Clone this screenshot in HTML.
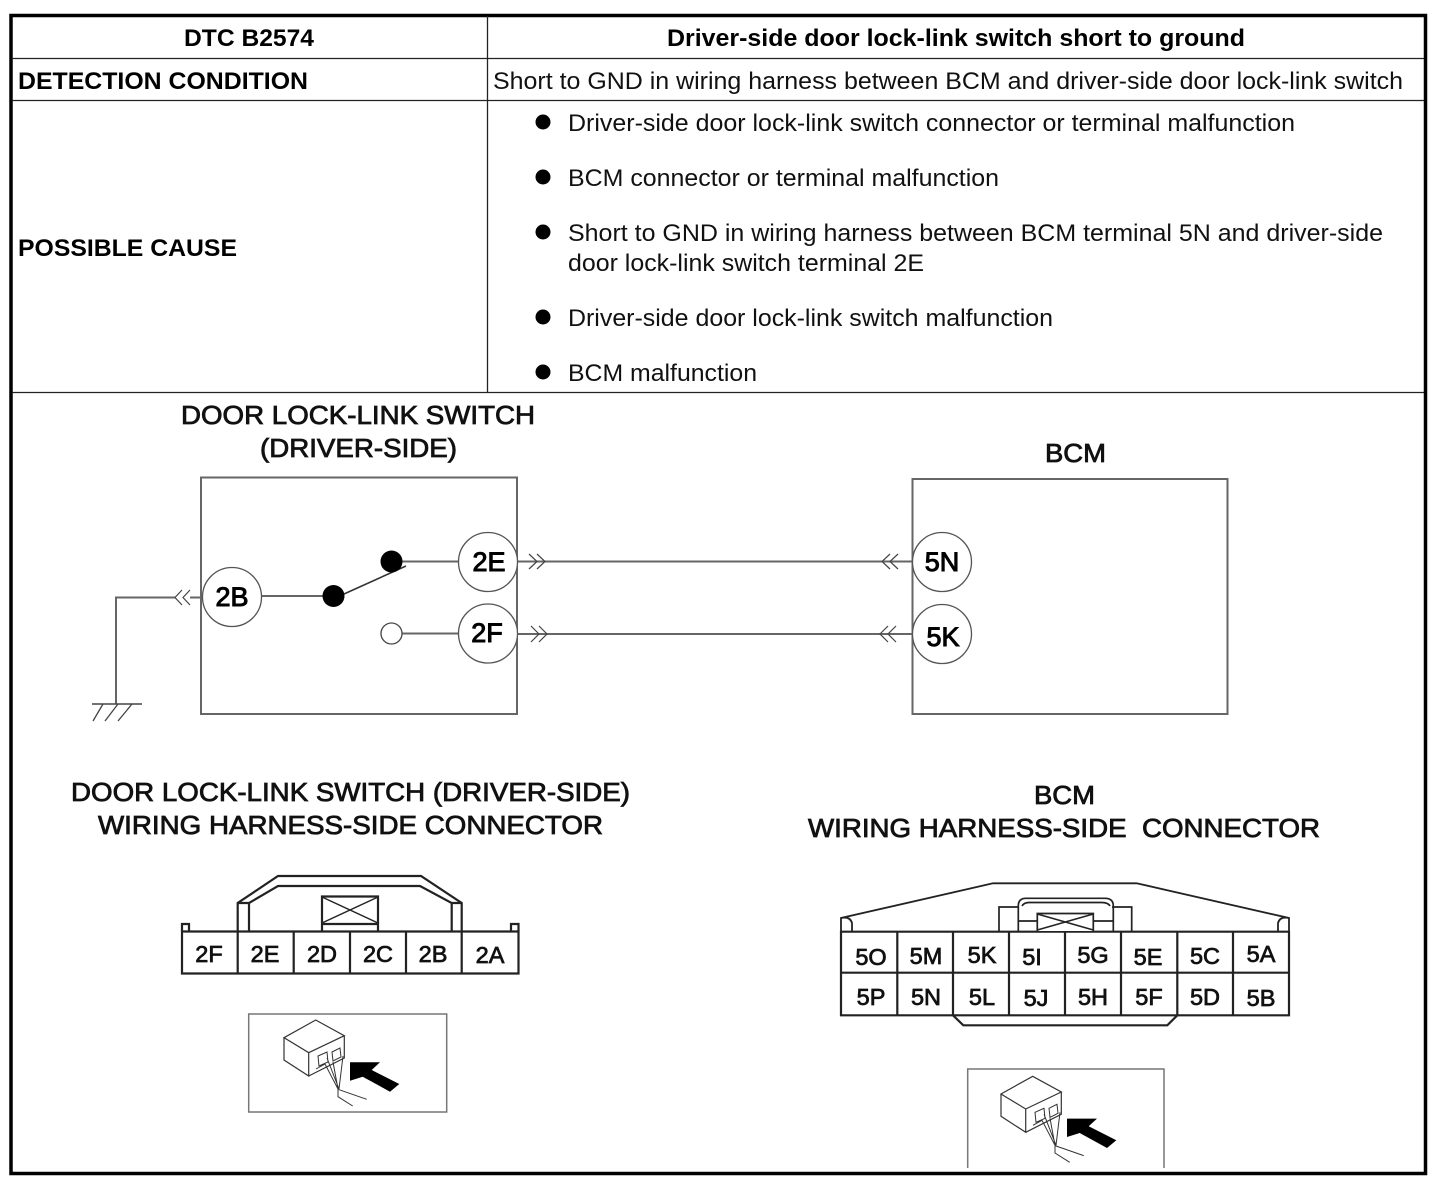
<!DOCTYPE html>
<html><head><meta charset="utf-8"><title>DTC B2574</title>
<style>
html,body{margin:0;padding:0;background:#fff;width:1438px;height:1190px;overflow:hidden}
svg{display:block;font-family:"Liberation Sans",sans-serif}
.t{font-size:24px;fill:#111}
.b{font-size:24px;font-weight:bold;fill:#000}
.h{font-size:26px;fill:#111;stroke:#111;stroke-width:.8}
.c{font-size:27px;fill:#000;stroke:#000;stroke-width:1;text-anchor:middle}
.p{font-size:23.500px;fill:#111;stroke:#111;stroke-width:.75;text-anchor:middle}
.g{fill:none;stroke:#666;stroke-width:2}
.k{fill:none;stroke:#222;stroke-width:2.200}
.n{fill:none;stroke:#444;stroke-width:1.200}
</style></head><body>
<svg width="1438" height="1190" viewBox="0 0 1438 1190" xmlns="http://www.w3.org/2000/svg">
<!-- table -->
<rect x="11" y="15.500" width="1414.500" height="1158" fill="#fff" stroke="#000" stroke-width="3.500"/>
<path d="M12 58.500H1424M12 100.500H1424M12 392.500H1424M487.500 16V392" fill="none" stroke="#222" stroke-width="1.300"/>
<text class="b" x="184" y="46" textLength="130" lengthAdjust="spacingAndGlyphs">DTC B2574</text>
<text class="b" x="667" y="46" textLength="578" lengthAdjust="spacingAndGlyphs">Driver-side door lock-link switch short to ground</text>
<text class="b" x="18" y="89" textLength="290" lengthAdjust="spacingAndGlyphs">DETECTION CONDITION</text>
<text class="t" x="493" y="89" textLength="910" lengthAdjust="spacingAndGlyphs">Short to GND in wiring harness between BCM and driver-side door lock-link switch</text>
<text class="b" x="18" y="256" textLength="219" lengthAdjust="spacingAndGlyphs">POSSIBLE CAUSE</text>
<g fill="#000"><circle cx="543" cy="122" r="7.500"/><circle cx="543" cy="177" r="7.500"/><circle cx="543" cy="232" r="7.500"/><circle cx="543" cy="317" r="7.500"/><circle cx="543" cy="372" r="7.500"/></g>
<text class="t" x="568" y="131" textLength="727" lengthAdjust="spacingAndGlyphs">Driver-side door lock-link switch connector or terminal malfunction</text>
<text class="t" x="568" y="186" textLength="431" lengthAdjust="spacingAndGlyphs">BCM connector or terminal malfunction</text>
<text class="t" x="568" y="241" textLength="815" lengthAdjust="spacingAndGlyphs">Short to GND in wiring harness between BCM terminal 5N and driver-side</text>
<text class="t" x="568" y="271" textLength="356" lengthAdjust="spacingAndGlyphs">door lock-link switch terminal 2E</text>
<text class="t" x="568" y="326" textLength="485" lengthAdjust="spacingAndGlyphs">Driver-side door lock-link switch malfunction</text>
<text class="t" x="568" y="381" textLength="189" lengthAdjust="spacingAndGlyphs">BCM malfunction</text>

<!-- headings -->
<text class="h" x="181" y="424" textLength="354" lengthAdjust="spacingAndGlyphs">DOOR LOCK-LINK SWITCH</text>
<text class="h" x="260" y="457" textLength="197" lengthAdjust="spacingAndGlyphs">(DRIVER-SIDE)</text>
<text class="h" x="1045" y="462" textLength="61" lengthAdjust="spacingAndGlyphs">BCM</text>
<text class="h" x="71" y="801" textLength="559" lengthAdjust="spacingAndGlyphs">DOOR LOCK-LINK SWITCH (DRIVER-SIDE)</text>
<text class="h" x="98" y="834" textLength="505" lengthAdjust="spacingAndGlyphs">WIRING HARNESS-SIDE CONNECTOR</text>
<text class="h" x="1034" y="804" textLength="61" lengthAdjust="spacingAndGlyphs">BCM</text>
<text class="h" x="808" y="837" textLength="512" lengthAdjust="spacingAndGlyphs" xml:space="preserve">WIRING HARNESS-SIDE  CONNECTOR</text>

<!-- schematic -->
<rect class="g" x="201" y="477.500" width="316" height="236.500"/>
<rect class="g" x="912.500" y="479" width="315" height="235"/>
<path class="g" d="M116 704V597.500H175M190 597.500H202M261 596H334M391 561.500H458M402 633.500H458M517 561.500H912M517 634H912"/>
<path d="M92 704H142" fill="none" stroke="#444" stroke-width="1.500"/>
<path d="M103 704L93 721M118 704L105 721M132 704L118 721" fill="none" stroke="#444" stroke-width="1.300"/>
<path class="n" d="M182 590L175 597.500L182 605M190 590L183 597.500L190 605M529 554L537 561.500L529 569M537 554L545 561.500L537 569M531 626L539 634L531 642M539 626L547 634L539 642M890 554L882 561.500L890 569M898 554L890 561.500L898 569M888 626L880 634L888 642M896 626L888 634L896 642"/>
<path d="M344 594L406 566" fill="none" stroke="#333" stroke-width="1.600"/>
<circle cx="333.500" cy="596" r="11" fill="#000"/>
<circle cx="391.500" cy="561.500" r="11" fill="#000"/>
<circle cx="391.500" cy="633.500" r="10.500" fill="#fff" stroke="#444" stroke-width="1.300"/>
<g fill="#fff" stroke="#555" stroke-width="1.300">
<circle cx="232" cy="597" r="29.500"/><circle cx="488" cy="562" r="29.500"/><circle cx="488" cy="633.500" r="29.500"/><circle cx="942" cy="562" r="29.500"/><circle cx="942" cy="634" r="29.500"/>
</g>
<text class="c" x="232" y="606">2B</text>
<text class="c" x="489" y="571">2E</text>
<text class="c" x="487" y="642">2F</text>
<text class="c" x="942" y="571">5N</text>
<text class="c" x="943" y="646">5K</text>

<!-- left connector -->
<path class="k" d="M182 931.500H518.500V973.500H182ZM237.700 931.500V973.500M293.700 931.500V973.500M350 931.500V973.500M406 931.500V973.500M461.700 931.500V973.500"/>
<path class="k" d="M237.700 931V903L278 876H421L461.700 903V931M249 931V903L278 886H420L451.700 903V931M237.700 903H249M451.700 903H461.700"/>
<path class="k" d="M182 931V924H189V931M511 931V924H518.500V931"/>
<path class="k" d="M322 931V896.500H378V931M322 924H378"/>
<path d="M322 897L378 923M378 897L322 923" fill="none" stroke="#222" stroke-width="1.500"/>
<text class="p" x="209" y="962">2F</text><text class="p" x="265" y="962">2E</text><text class="p" x="322" y="962">2D</text><text class="p" x="378" y="962">2C</text><text class="p" x="433" y="962">2B</text><text class="p" x="490" y="963">2A</text>

<!-- right connector -->
<path class="k" d="M841 931.700H1289V1015.300H841ZM841 972.700H1289M897.300 931.700V1015.300M953 931.700V1015.300M1009 931.700V1015.300M1065 931.700V1015.300M1121 931.700V1015.300M1177.300 931.700V1015.300M1233 931.700V1015.300"/>
<path d="M841 931V918L993 883.300H1136.700L1289 918V931M841 918Q850 916 852 923V931M1289 918Q1280 916 1278 923V931" fill="none" stroke="#222" stroke-width="1.800"/>
<path class="k" d="M953 1015.300L963.300 1025.300H1167.300L1177.300 1015.300"/>
<path d="M999 931V907H1018M1112 907H1131.700V931M1018.300 931V906Q1018.300 898.300 1026 898.300H1105Q1113.300 898.300 1113.300 906V931M1018.300 921H1113.300M1022 906Q1024 902.500 1029 902.500H1102Q1108 902.500 1110 906" fill="none" stroke="#222" stroke-width="1.700"/>
<path d="M1037.300 931V913.500H1093.300V931" fill="#fff" stroke="#222" stroke-width="1.700"/>
<path d="M1037.300 914L1093.300 930M1093.300 914L1037.300 930" fill="none" stroke="#222" stroke-width="1.500"/>
<text class="p" x="871" y="965">5O</text><text class="p" x="926" y="964">5M</text><text class="p" x="982" y="963">5K</text><text class="p" x="1032" y="965">5I</text><text class="p" x="1093" y="963">5G</text><text class="p" x="1148" y="965">5E</text><text class="p" x="1205" y="964">5C</text><text class="p" x="1261" y="962">5A</text>
<text class="p" x="871" y="1005">5P</text><text class="p" x="926" y="1005">5N</text><text class="p" x="982" y="1005">5L</text><text class="p" x="1036" y="1006">5J</text><text class="p" x="1093" y="1005">5H</text><text class="p" x="1149" y="1005">5F</text><text class="p" x="1205" y="1005">5D</text><text class="p" x="1261" y="1006">5B</text>

<!-- view boxes -->
<rect x="248.700" y="1014" width="198" height="98" fill="none" stroke="#777" stroke-width="1.500"/>
<path d="M967.700 1168V1069H1164V1168" fill="none" stroke="#777" stroke-width="1.500"/>
<g>
<path d="M284 1037.700L315.700 1020L344.300 1035.700L308.700 1052.700ZM284 1037.700V1060L308.700 1076V1052.700M344.300 1035.700V1058L308.700 1076" fill="none" stroke="#333" stroke-width="1.200"/>
<path d="M318 1056L327 1052L328 1062L319 1066ZM332 1052L340 1048L341 1057L333 1061ZM316 1069L325 1064L338 1089M327 1058L339 1089M333 1062L338 1089M343 1056L339 1089M338 1089.300L366.700 1099.300M338 1089.300V1096.700L352.700 1106" fill="none" stroke="#333" stroke-width="1"/>
<path d="M350 1062.300H380L371.700 1070L399.300 1084L390 1091.700L362.700 1076.700L350 1080.700Z" fill="#000"/>
</g>
<g transform="translate(717 56.300)">
<path d="M284 1037.700L315.700 1020L344.300 1035.700L308.700 1052.700ZM284 1037.700V1060L308.700 1076V1052.700M344.300 1035.700V1058L308.700 1076" fill="none" stroke="#333" stroke-width="1.200"/>
<path d="M318 1056L327 1052L328 1062L319 1066ZM332 1052L340 1048L341 1057L333 1061ZM316 1069L325 1064L338 1089M327 1058L339 1089M333 1062L338 1089M343 1056L339 1089M338 1089.300L366.700 1099.300M338 1089.300V1096.700L352.700 1106" fill="none" stroke="#333" stroke-width="1"/>
<path d="M350 1062.300H380L371.700 1070L399.300 1084L390 1091.700L362.700 1076.700L350 1080.700Z" fill="#000"/>
</g>
</svg>
</body></html>
